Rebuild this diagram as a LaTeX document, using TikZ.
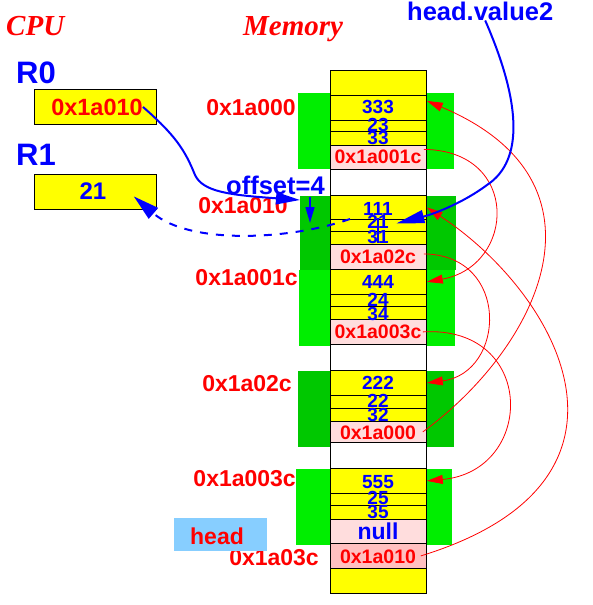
\documentclass[tikz,border=0pt]{standalone}
\usepackage{fontspec}
\setmainfont{Liberation Sans}
\newfontfamily\tmsfont{Liberation Serif}
\usetikzlibrary{arrows.meta,calc}
\definecolor{memyel}{RGB}{255,255,0}
\definecolor{mempink}{RGB}{255,221,221}
\definecolor{mempinkd}{RGB}{255,192,192}
\definecolor{grnA}{RGB}{0,238,0}
\definecolor{grnB}{RGB}{0,200,0}
\definecolor{headbg}{RGB}{135,206,255}
\tikzset{
  memcell/.style={draw=black, line width=0.8pt, minimum width=96pt, inner sep=0pt, anchor=north west},
  grnbox/.style={inner sep=0pt, anchor=north west, minimum width=156pt},
  valtxt/.style={text=blue, font=\bfseries\fontsize{19}{19}\selectfont, anchor=base, inner sep=0pt},
  ptrtxt/.style={text=red, font=\bfseries\fontsize{19.5}{19.5}\selectfont, anchor=base, inner sep=0pt},
  addrtxt/.style={text=red, font=\bfseries\fontsize{23}{23}\selectfont, anchor=base east, inner sep=0pt},
  titletxt/.style={text=red, font=\tmsfont\bfseries\itshape\fontsize{29}{29}\selectfont, anchor=base west, inner sep=0pt},
  reglab/.style={text=blue, font=\bfseries\fontsize{31}{31}\selectfont, anchor=base west, inner sep=0pt},
  regbox/.style={draw=black, line width=0.8pt, fill=memyel, minimum width=122pt, minimum height=35pt, inner sep=0pt, anchor=north west},
  ptrarrow/.style={red, line width=0.8pt, -{Triangle[length=16pt,width=9pt]}},
  bluearrow/.style={blue, line width=2pt},
}
\newcommand\mcell[4]{\node[memcell, fill=#4, minimum height=#3pt] (#1) at (330,#2) {};}
\newcommand\gbox[5]{\node[grnbox, fill=#5, minimum height=#4pt] (#1) at (#2,#3) {};}
\begin{document}
\begin{tikzpicture}[x=1pt,y=-1pt]
\useasboundingbox (0,0) rectangle (592,605);
% green backgrounds
\gbox{g1}{298}{93}{76}{grnA}
\gbox{g2}{300}{196}{74}{grnB}
\gbox{g3}{299}{270}{76}{grnA}
\gbox{g4}{298}{371}{76}{grnB}
\gbox{g5}{296}{469}{76}{grnA}
% memory column
\mcell{mtop}{70}{25}{memyel}
\mcell{v1}{95}{25}{memyel}
\mcell{a1}{120}{11}{memyel}
\mcell{b1}{131}{14}{memyel}
\mcell{p1}{145}{24}{mempink}
\mcell{w1}{169}{26}{white}
\mcell{v2}{195}{24}{memyel}
\mcell{a2}{219}{12}{memyel}
\mcell{b2}{231}{13}{memyel}
\mcell{p2}{244}{25}{mempink}
\mcell{v3}{269}{25}{memyel}
\mcell{a3}{294}{12}{memyel}
\mcell{b3}{306}{13}{memyel}
\mcell{p3}{319}{25}{mempink}
\mcell{w2}{344}{26}{white}
\mcell{v4}{370}{25}{memyel}
\mcell{a4}{395}{13}{memyel}
\mcell{b4}{408}{13}{memyel}
\mcell{p4}{421}{21}{mempink}
\mcell{w3}{442}{26}{white}
\mcell{v5}{468}{25}{memyel}
\mcell{a5}{493}{12}{memyel}
\mcell{b5}{505}{14}{memyel}
\mcell{p5}{519}{24}{mempink}
\mcell{p6}{543}{25}{mempinkd}
\mcell{mbot}{568}{25}{memyel}
% memory texts
\node[valtxt] (t333) at (378,113) {333};
\node[valtxt] (t23) at (378,131) {23};
\node[valtxt] (t33) at (378,144) {33};
\node[ptrtxt] (tp1) at (378,163) {0x1a001c};
\node[valtxt] (t111) at (378,215) {111};
\node[valtxt] (t21) at (378,228) {21};
\node[valtxt] (t31) at (378,243) {31};
\node[ptrtxt] (tp2) at (378,263) {0x1a02c};
\node[valtxt] (t444) at (378,288) {444};
\node[valtxt] (t24) at (378,306) {24};
\node[valtxt] (t34) at (378,320) {34};
\node[ptrtxt] (tp3) at (378,338) {0x1a003c};
\node[valtxt] (t222) at (378,389) {222};
\node[valtxt] (t22) at (378,407) {22};
\node[valtxt] (t32) at (378,421) {32};
\node[ptrtxt] (tp4) at (378,439) {0x1a000};
\node[valtxt] (t555) at (378,488) {555};
\node[valtxt] (t25) at (378,504) {25};
\node[valtxt] (t35) at (378,518) {35};
\node[valtxt, font=\bfseries\fontsize{23}{23}\selectfont] (tnull) at (378,539) {null};
\node[ptrtxt] (tp6) at (378,563) {0x1a010};
\draw[blue, line width=1.8pt] (378,218) -- (378,243);
% address labels
\node[addrtxt] (l1) at (296,115) {0x1a000};
\node[addrtxt] (l2) at (288,213) {0x1a010};
\node[addrtxt] (l3) at (298,285) {0x1a001c};
\node[addrtxt] (l4) at (292,391) {0x1a02c};
\node[addrtxt] (l5) at (296,486) {0x1a003c};
\node[addrtxt] (l6) at (319,565) {0x1a03c};
% titles
\node[titletxt] (cpu) at (6,35) {CPU};
\node[titletxt] (mem) at (243,35) {Memory};
% registers
\node[reglab] (r0lab) at (16,83) {R0};
\node[reglab] (r1lab) at (16,165) {R1};
\node[regbox] (r0box) at (34,89) {};
\node[regbox] (r1box) at (34,174) {};
\node[text=red, font=\bfseries\fontsize{23.5}{23.5}\selectfont, anchor=base, inner sep=0pt] (r0val) at (97,115) {0x1a010};
\node[text=blue, font=\bfseries\fontsize{24}{24}\selectfont, anchor=base, inner sep=0pt] (r1val) at (93,199) {21};
% head
\node[fill=headbg, minimum width=93pt, minimum height=33pt, inner sep=0pt, anchor=north west] (headbox) at (174,518) {};
\node[text=red, font=\bfseries\fontsize{23}{23}\selectfont, anchor=base, inner sep=0pt] (headtxt) at (217,544) {head};
\node[text=blue, font=\bfseries\fontsize{25.5}{25.5}\selectfont, anchor=base west, inner sep=0pt] (hv) at (407,20) {head.value2};
\node[text=blue, font=\bfseries\fontsize{25.5}{25.5}\selectfont, anchor=base west, inner sep=0pt] (off) at (226,194) {offset=4};
% red pointer arrows
\draw[ptrarrow] ([xshift=-3pt,yshift=8pt]p1.east) .. controls +(97,1) and +(89,-16) .. (v3.east);
\draw[ptrarrow] ([xshift=-3pt,yshift=3pt]p2.east) .. controls +(87,1) and +(79,-10) .. (v4.east);
\draw[ptrarrow] ([xshift=-4pt]p3.east) .. controls +(114,-7) and +(109,-10) .. (v5.east);
\draw[ptrarrow] ([xshift=-4pt]p4.east) .. controls +(116,-85) and +(193,81) .. ([yshift=7pt]v1.east);
\draw[ptrarrow] ([xshift=-6pt]p6.east) .. controls +(244,-75) and +(130,85) .. (v2.east);
% blue arrows
\draw[bluearrow, -{Triangle[length=24pt,width=12pt]}] (r0val.east) .. controls (175,135) and (185,150) .. (195,175) .. controls (203,192) and (230,195) .. ([yshift=-4pt]g2.north west);
\coordinate (offA) at (310,197);
\coordinate (offB) at (310,223);
\draw[blue, line width=1.5pt, -{Triangle[length=16pt,width=9pt]}] (offA) -- (offB);
\coordinate (dstart) at (350,219);
\draw[bluearrow, dash pattern=on 8pt off 8pt, -{Triangle[length=26pt,width=14pt]}] (dstart) .. controls (290,240) and (190,245) .. ([xshift=-23pt,yshift=-4.5pt]r1box.east);
\draw[bluearrow, -{Triangle[length=28pt,width=13pt]}] ([xshift=5pt]hv.south) .. controls (520,100) and (525,160) .. (487,185) .. controls (460,205) and (430,215) .. ([xshift=18pt,yshift=2pt]a2.center);
\end{tikzpicture}
\end{document}
